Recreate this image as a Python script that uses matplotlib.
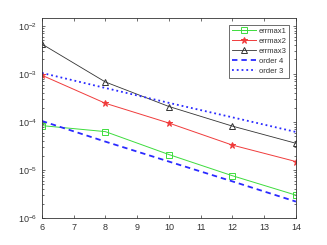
import matplotlib
matplotlib.use('Agg')
import matplotlib.pyplot as plt
from matplotlib.ticker import LogLocator, NullFormatter

x = [6, 8, 10, 12, 14]
errmax1 = [8.4e-5, 6.3e-5, 2.1e-5, 7.6e-6, 3.0e-6]
errmax2 = [9.4e-4, 2.45e-4, 9.5e-5, 3.3e-5, 1.5e-5]
errmax3 = [4.2e-3, 6.8e-4, 2.1e-4, 8.2e-5, 3.6e-5]
order4 = [1.05e-4, 3.9e-5, 1.5e-5, 5.8e-6, 2.2e-6]
order3 = [1.05e-3, 5.1e-4, 2.5e-4, 1.25e-4, 6.2e-5]

plt.rcParams['font.family'] = ['Liberation Sans', 'DejaVu Sans']
gray = '#333333'

fig = plt.figure(figsize=(3.27, 2.45), dpi=100)
ax = fig.add_axes([0.128, 0.110, 0.777, 0.817])

ax.semilogy(x, errmax1, '-s', color='#3ddc3d', lw=0.7, ms=4.5, mfc='none', mew=0.7, label='errmax1')
ax.semilogy(x, errmax2, '-*', color='#f03c3c', lw=0.7, ms=4.5, mew=0.7, label='errmax2')
ax.semilogy(x, errmax3, '-^', color='#333333', lw=0.6, ms=4.5, mfc='none', mew=0.7, label='errmax3')
ax.semilogy(x, order4, '--', color='#2a2aff', lw=1.3, dashes=(3, 2.2), label='order 4')
ax.semilogy(x, order3, ':', color='#2a2aff', lw=1.3, label='order 3')

ax.set_xlim(6, 14)
ax.set_ylim(1e-6, 10 ** -1.833)
ax.set_xticks(range(6, 15))
ax.yaxis.set_major_locator(LogLocator(base=10, numticks=10))
ax.yaxis.set_minor_locator(LogLocator(base=10, subs=range(2, 10), numticks=10))
ax.yaxis.set_minor_formatter(NullFormatter())
ax.tick_params(which='both', direction='in', top=True, right=True, labelsize=6.5,
               colors=gray, width=0.5)
ax.tick_params(which='major', length=2.5)
ax.tick_params(which='minor', length=1.3)
for s in ax.spines.values():
    s.set_linewidth(0.6)
    s.set_color(gray)

leg = ax.legend(loc='upper right', fontsize=5.5, fancybox=False, framealpha=1,
                edgecolor=gray, handlelength=3.2, borderpad=0.35, labelspacing=0.35,
                handletextpad=0.3, borderaxespad=0.9)
leg.get_frame().set_linewidth(0.5)
for t in leg.get_texts():
    t.set_color(gray)

fig.savefig('out.png', dpi=100)
